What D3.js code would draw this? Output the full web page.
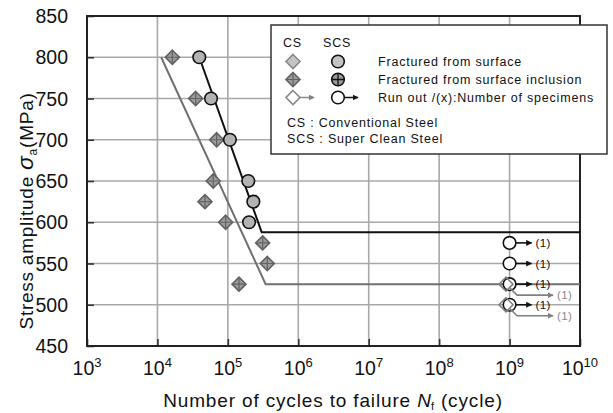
<!DOCTYPE html>
<html>
<head>
<meta charset="utf-8">
<script src="https://cdn.jsdelivr.net/npm/d3@7"></script>
<style>
  html, body { margin: 0; padding: 0; background: #fff; }
  svg { display: block; font-family: "Liberation Sans", Arial, sans-serif; }
</style>
</head>
<body>
<svg id="chart" width="613" height="413"></svg>
<script>
// Conventional steel (CS): failures from surface inclusions
const csCycles = [1.63e4, 3.49e4, 6.93e4, 6.2e4, 4.73e4, 9.3e4, 3.12e5, 3.63e5, 1.44e5];
const csStress = [800, 750, 700, 650, 625, 600, 575, 550, 525];
// Super clean steel (SCS): failures from surface
const scsCycles = [3.93e4, 5.77e4, 1.07e5, 1.95e5, 2.3e5, 2.0e5];
const scsStress = [800, 750, 700, 650, 625, 600];
// Run-outs
const scsRunCycles = [1e9, 1e9, 1e9, 1e9];
const scsRunStress = [575, 550, 525, 500];
const scsRunCount = [1, 1, 1, 1];
const csRunCycles = [8.9e8, 8.9e8];
const csRunStress = [525, 500];
const csRunCount = [1, 1];
// S-N curves (knee points, then fatigue limit)
const scsCurveN = [3.93e4, 3.02e5, 1e10];
const scsCurveS = [800, 588, 588];
const csCurveN = [1.13e4, 3.44e5, 1e10];
const csCurveS = [800, 525, 525];
// Axes
const xTickExp = [3, 4, 5, 6, 7, 8, 9, 10];
const yTicks = [450, 500, 550, 600, 650, 700, 750, 800, 850];

const svg = d3.select("#chart");
const L = 87, R = 580, T = 16, B = 346;

const x = d3.scaleLog().domain([1e3, 1e10]).range([L, R]);
const y = d3.scaleLinear().domain([450, 850]).range([B, T]);

// grid
const grid = svg.append("g");
grid.selectAll("line.gx").data(xTickExp.slice(1, -1)).join("line")
  .attr("x1", d => x(Math.pow(10, d))).attr("x2", d => x(Math.pow(10, d)))
  .attr("y1", T).attr("y2", B)
  .attr("stroke", "#a8a8a8").attr("stroke-width", 1.6);
grid.selectAll("line.gy").data(yTicks.slice(1, -1)).join("line")
  .attr("x1", L).attr("x2", R)
  .attr("y1", d => y(d)).attr("y2", d => y(d))
  .attr("stroke", "#a8a8a8").attr("stroke-width", 1.6);

// axes with inward ticks
const xAxis = d3.axisBottom(x).tickValues(xTickExp.map(e => Math.pow(10, e)))
  .tickSizeInner(-7).tickSizeOuter(0).tickFormat("");
const yAxis = d3.axisLeft(y).tickValues(yTicks).tickSizeInner(-7).tickSizeOuter(0).tickFormat("");
const gx = svg.append("g").attr("transform", `translate(0,${B})`).call(xAxis);
const gy = svg.append("g").attr("transform", `translate(${L},0)`).call(yAxis);
[gx, gy].forEach(g => {
  g.select(".domain").remove();
  g.selectAll(".tick line").attr("stroke", "#333").attr("stroke-width", 1.6);
});

// frame
svg.append("rect").attr("x", L).attr("y", T).attr("width", R - L).attr("height", B - T)
  .attr("fill", "none").attr("stroke", "#222").attr("stroke-width", 2);

// y tick labels
svg.append("g").selectAll("text").data(yTicks).join("text")
  .attr("x", L - 19).attr("y", d => y(d)).attr("dy", "0.36em")
  .attr("text-anchor", "end").attr("font-size", 19.5).attr("fill", "#111")
  .text(d => d);

// x tick labels 10^n
const xl = svg.append("g").selectAll("text").data(xTickExp).join("text")
  .attr("x", d => x(Math.pow(10, d))).attr("y", 375)
  .attr("text-anchor", "middle").attr("font-size", 19.5).attr("fill", "#111");
xl.append("tspan").text("10");
xl.append("tspan").attr("font-size", 13).attr("dy", -8).text(d => d);

// axis titles
const xt = svg.append("text").attr("x", 333).attr("y", 407).attr("text-anchor", "middle")
  .attr("font-size", 19).attr("letter-spacing", 0.85).attr("fill", "#111");
xt.append("tspan").text("Number of cycles to failure ");
xt.append("tspan").attr("font-style", "italic").attr("letter-spacing", 0).text("N");
xt.append("tspan").attr("font-size", 11).attr("dy", 3).text("f");
xt.append("tspan").attr("dy", -3).text(" (cycle)");

const yt = svg.append("text").attr("transform", "translate(33,211) rotate(-90)")
  .attr("text-anchor", "middle").attr("font-size", 19).attr("letter-spacing", 0.75).attr("fill", "#111");
yt.append("tspan").text("Stress amplitude ");
yt.append("tspan").attr("font-style", "italic").attr("font-size", 23).text("σ");
yt.append("tspan").attr("font-size", 12).attr("dy", 4).text("a");
yt.append("tspan").attr("dy", -4).text("(MPa)");

// S-N curves
const line = d3.line().x(d => x(d[0])).y(d => y(d[1]));
svg.append("path").datum(d3.zip(csCurveN, csCurveS)).attr("d", line)
  .attr("fill", "none").attr("stroke", "#707070").attr("stroke-width", 2);
svg.append("path").datum(d3.zip(scsCurveN, scsCurveS)).attr("d", line)
  .attr("fill", "none").attr("stroke", "#111").attr("stroke-width", 2);

// arrow markers
const defs = svg.append("defs");
function arrowHead(id, color) {
  defs.append("marker").attr("id", id).attr("viewBox", "0 0 10 10")
    .attr("refX", 9).attr("refY", 5).attr("markerWidth", 6).attr("markerHeight", 6)
    .attr("markerUnits", "userSpaceOnUse").attr("orient", "auto")
    .append("path").attr("d", "M0,0L10,5L0,10Z").attr("fill", color);
}
arrowHead("ahBlack", "#111");
arrowHead("ahGray", "#808080");

// symbols
const D = 7, Rc = 6.3;
function diamond(g, cx, cy, fill, stroke, cross) {
  g.append("path").attr("d", `M${cx},${cy - D}L${cx + D},${cy}L${cx},${cy + D}L${cx - D},${cy}Z`)
    .attr("fill", fill).attr("stroke", stroke).attr("stroke-width", 1.6);
  if (cross) {
    g.append("path").attr("d", `M${cx},${cy - D}V${cy + D}M${cx - D},${cy}H${cx + D}`)
      .attr("stroke", stroke).attr("stroke-width", 1.2);
  }
}
function circle(g, cx, cy, fill, cross) {
  g.append("circle").attr("cx", cx).attr("cy", cy).attr("r", Rc)
    .attr("fill", fill).attr("stroke", "#111").attr("stroke-width", 1.6);
  if (cross) {
    g.append("path").attr("d", `M${cx},${cy - Rc}V${cy + Rc}M${cx - Rc},${cy}H${cx + Rc}`)
      .attr("stroke", "#111").attr("stroke-width", 1.3);
  }
}

// data points
const pts = svg.append("g");
d3.zip(csCycles, csStress).forEach(([n, s]) => diamond(pts, x(n), y(s), "#9c9c9c", "#626262", true));
d3.zip(scsCycles, scsStress).forEach(([n, s]) => circle(pts, x(n), y(s), "#b3b3b3", false));

// run-outs: SCS
d3.zip(scsRunCycles, scsRunStress, scsRunCount).forEach(([n, s, c]) => {
  const cx = x(n), cy = y(s);
  circle(pts, cx, cy, "#fff", false);
  pts.append("line").attr("x1", cx + Rc).attr("x2", cx + 22).attr("y1", cy).attr("y2", cy)
    .attr("stroke", "#111").attr("stroke-width", 1.6).attr("marker-end", "url(#ahBlack)");
  pts.append("text").attr("x", cx + 26).attr("y", cy).attr("dy", "0.35em")
    .attr("font-size", 11.5).attr("letter-spacing", 0.4).attr("fill", "#111").text(`(${c})`);
});
// run-outs: CS
d3.zip(csRunCycles, csRunStress, csRunCount).forEach(([n, s, c]) => {
  const cx = x(n), cy = y(s);
  diamond(pts, cx, cy, "none", "#808080", false);
  pts.append("path").attr("d", `M${cx + 4},${cy + 4}L${cx + 11},${cy + 11}H${cx + 47}`)
    .attr("fill", "none").attr("stroke", "#808080").attr("stroke-width", 1.6)
    .attr("marker-end", "url(#ahGray)");
  pts.append("text").attr("x", cx + 51).attr("y", cy + 11).attr("dy", "0.35em")
    .attr("font-size", 11.5).attr("letter-spacing", 0.4).attr("fill", "#888").text(`(${c})`);
});

// legend
const lg = svg.append("g");
lg.append("rect").attr("x", 271).attr("y", 25).attr("width", 336).attr("height", 129)
  .attr("fill", "#fff").attr("stroke", "#333").attr("stroke-width", 1.5);
const lt = (tx, ty, s) => lg.append("text").attr("x", tx).attr("y", ty).attr("dy", "0.35em")
  .attr("font-size", 12.5).attr("letter-spacing", 0.8).attr("fill", "#111").text(s);
lt(283, 43, "CS");
lt(323, 43, "SCS");
const rows = [61.5, 79.5, 97.5];
diamond(lg, 293, rows[0], "#c4c4c4", "#888", false);
circle(lg, 338, rows[0], "#c4c4c4", false);
diamond(lg, 293, rows[1], "#9c9c9c", "#626262", true);
circle(lg, 338, rows[1], "#9a9a9a", true);
diamond(lg, 293, rows[2], "#fff", "#888", false);
lg.append("line").attr("x1", 300).attr("x2", 314).attr("y1", rows[2]).attr("y2", rows[2])
  .attr("stroke", "#888").attr("stroke-width", 1.5).attr("marker-end", "url(#ahGray)");
circle(lg, 338, rows[2], "#fff", false);
lg.append("line").attr("x1", 344).attr("x2", 358).attr("y1", rows[2]).attr("y2", rows[2])
  .attr("stroke", "#111").attr("stroke-width", 1.5).attr("marker-end", "url(#ahBlack)");
lt(378, rows[0], "Fractured from surface");
lt(378, rows[1], "Fractured from surface inclusion");
lt(378, rows[2], "Run out /(x):Number of specimens");
lt(287, 123, "CS : Conventional Steel");
lt(287, 139, "SCS : Super Clean Steel");
</script>
</body>
</html>
